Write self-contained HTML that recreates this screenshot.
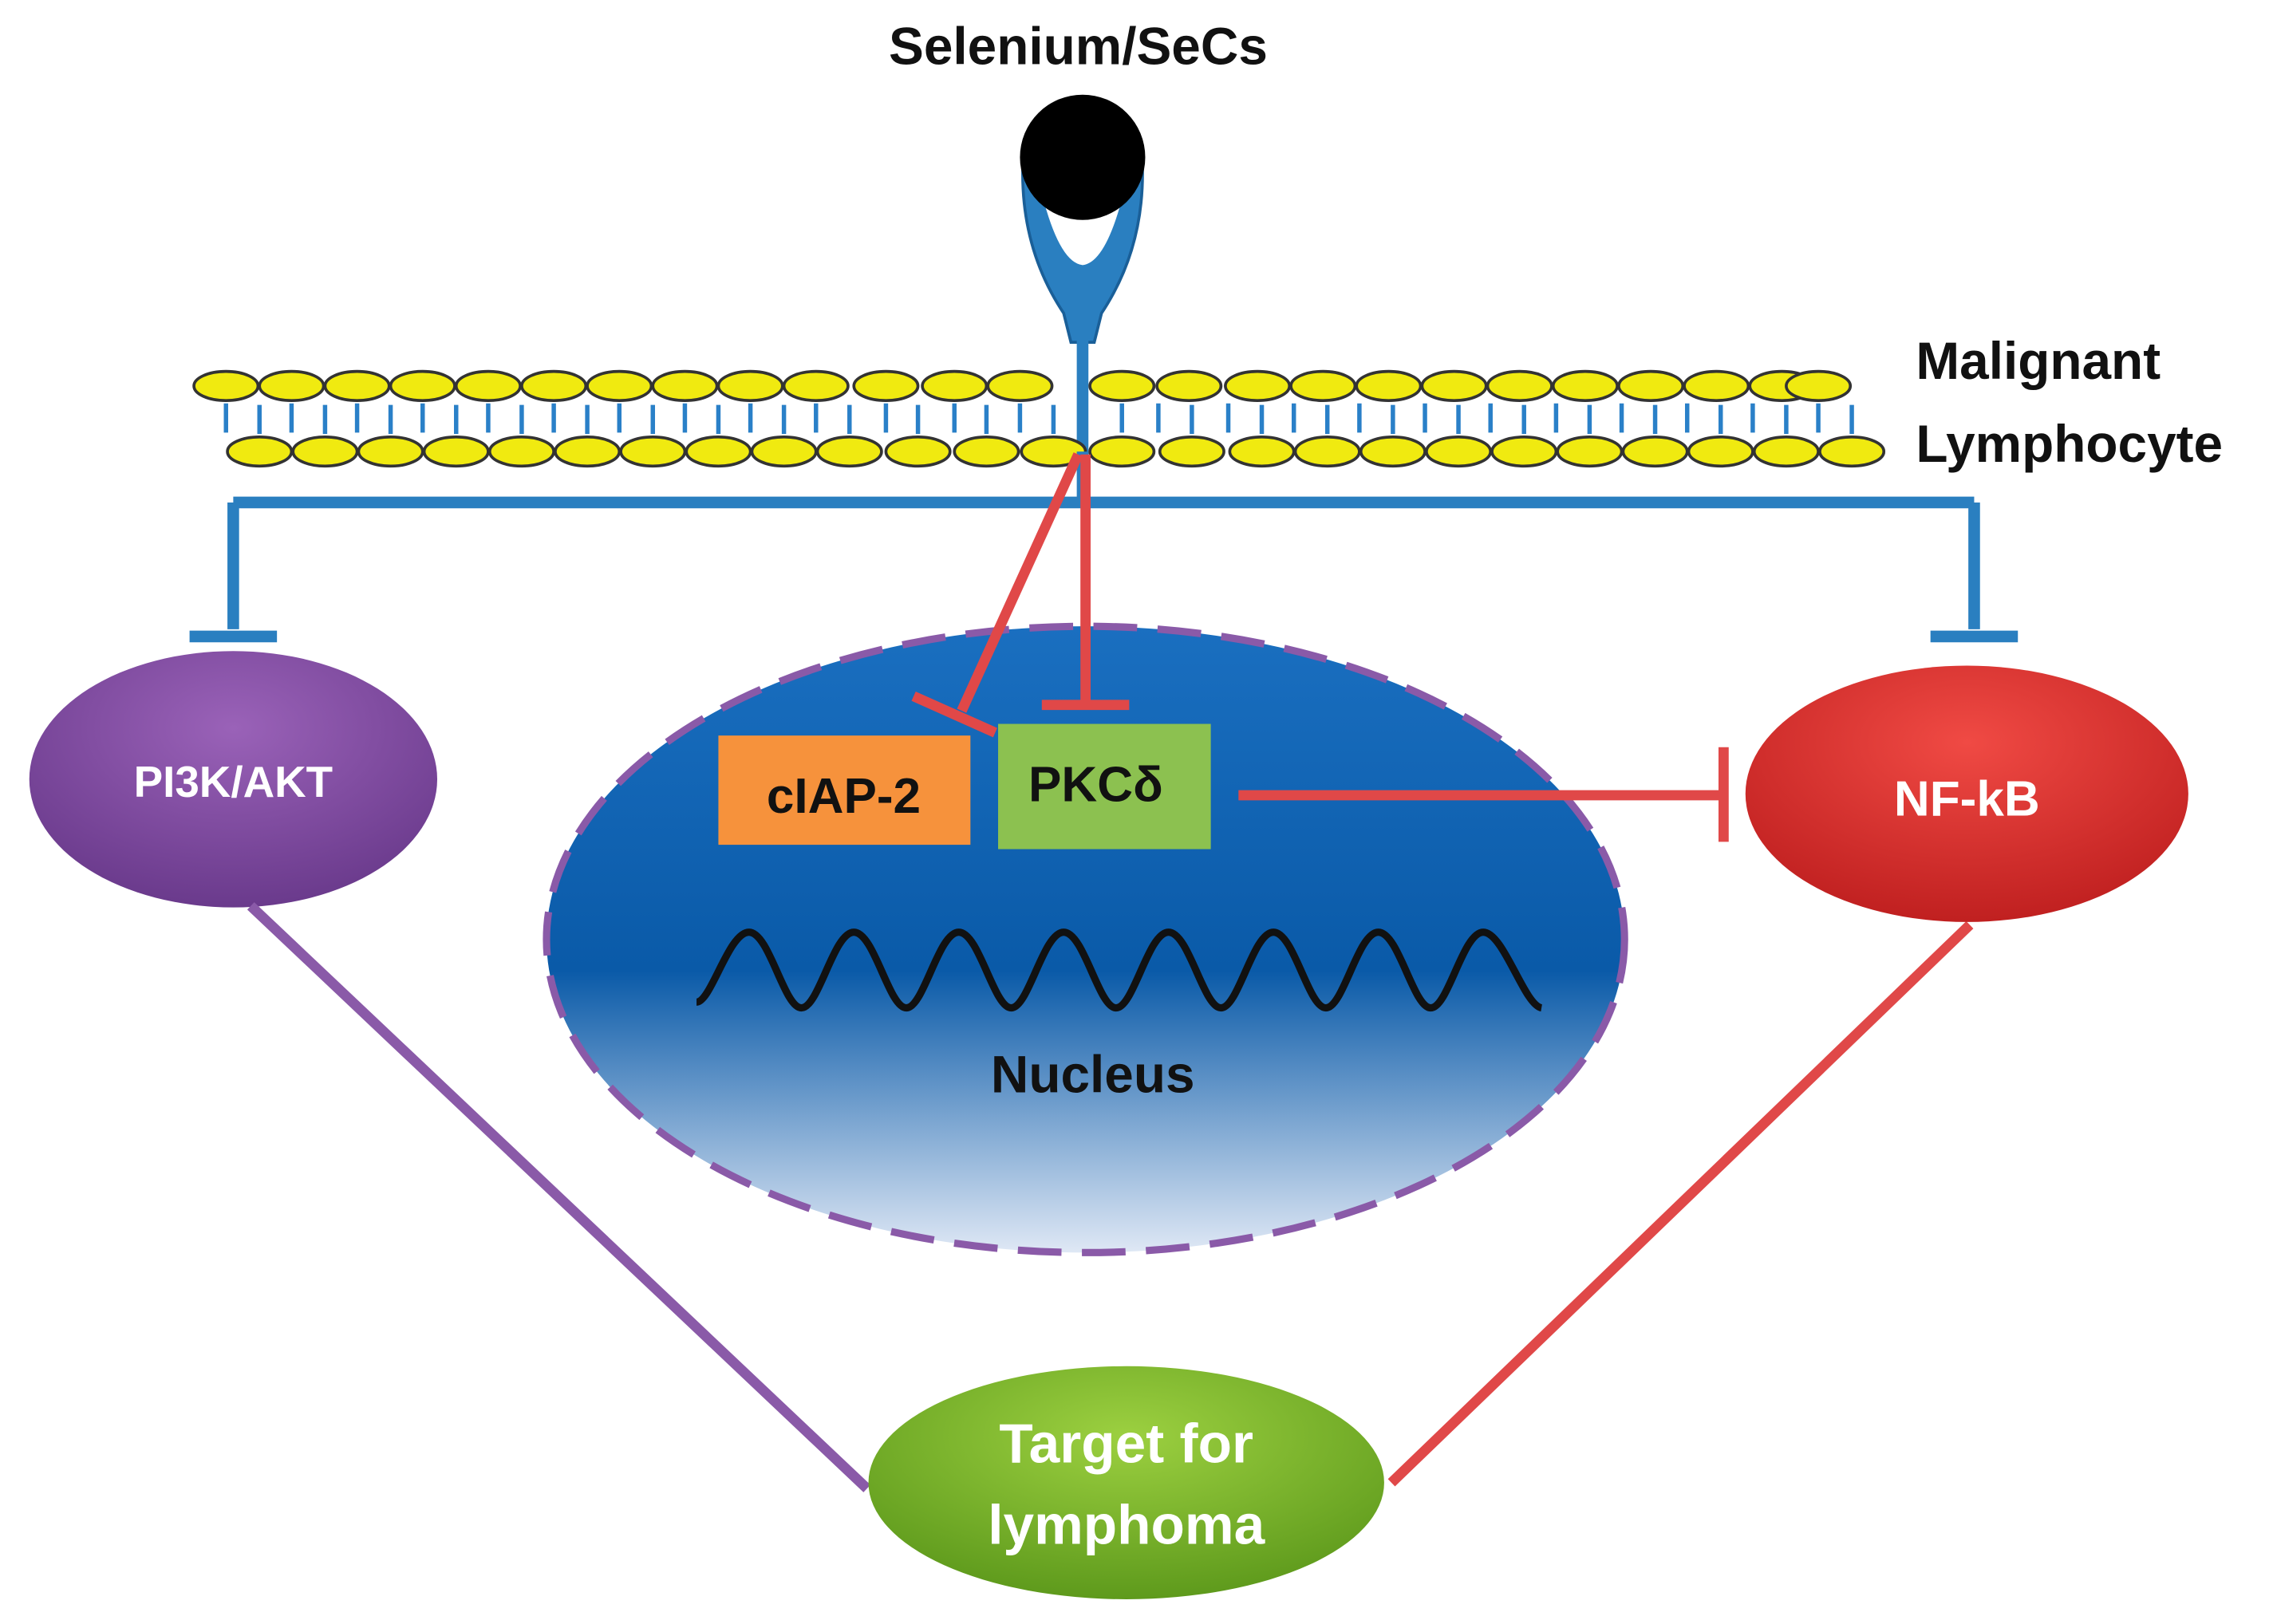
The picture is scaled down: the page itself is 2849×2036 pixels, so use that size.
<!DOCTYPE html>
<html><head><meta charset="utf-8"><style>
html,body{margin:0;padding:0;background:#fff;}
svg{display:block;}
text{font-family:"Liberation Sans","DejaVu Sans",sans-serif;font-weight:bold;}
</style></head><body>
<svg width="2849" height="2036" viewBox="0 0 1560 1115" xmlns="http://www.w3.org/2000/svg">
<defs>
<linearGradient id="nuc" x1="0" y1="0" x2="0" y2="1">
<stop offset="0" stop-color="#1a6fc0"/><stop offset="0.55" stop-color="#0a5aa8"/><stop offset="1" stop-color="#dfe8f5"/>
</linearGradient>
<radialGradient id="pur" cx="0.5" cy="0.3" r="0.7"><stop offset="0" stop-color="#9a62b8"/><stop offset="1" stop-color="#6a3a8c"/></radialGradient>
<radialGradient id="red" cx="0.5" cy="0.3" r="0.7"><stop offset="0" stop-color="#f04a44"/><stop offset="1" stop-color="#c02020"/></radialGradient>
<radialGradient id="grn" cx="0.5" cy="0.3" r="0.7"><stop offset="0" stop-color="#9cd040"/><stop offset="1" stop-color="#5e9a1c"/></radialGradient>
</defs>
<text x="740" y="44" font-size="36" text-anchor="middle" fill="#111">Selenium/SeCs</text>
<path d="M702 112 Q700 170 730 215 L735 235 L751 235 L756 215 Q786 170 784 112 Z" fill="#2a7fc0" stroke="#1a5f98" stroke-width="2"/>
<path d="M712 120 Q725 180 743 182 Q761 180 774 120 Z" fill="#fff"/>
<circle cx="743" cy="108" r="43" fill="#000"/>
<rect x="739" y="233" width="8" height="80" fill="#2a7fc0"/>
<g stroke="#2a80c8" stroke-width="3">
<path d="M155 277v20M178 278v20M200 277v20M223 278v20M245 277v20M268 278v20M290 277v20M313 278v20M335 277v20M358 278v20M380 277v20M403 278v20M425 277v20M448 278v20M470 277v20M493 278v20M515 277v20M538 278v20M560 277v20M583 278v20M608 277v20M630 278v20M655 277v20M677 278v20M700 277v20M723 278v20M770 277v20M795 277v20M818 278v20M843 277v20M866 278v20M888 277v20M911 278v20M933 277v20M956 278v20M978 277v20M1001 278v20M1023 277v20M1046 278v20M1068 277v20M1091 278v20M1113 277v20M1136 278v20M1158 277v20M1181 278v20M1203 277v20M1226 278v20M1248 277v20M1271 278v20"/>
</g>
<g fill="#f0ea10" stroke="#333" stroke-width="2">
<ellipse cx="155" cy="265" rx="22" ry="10"/><ellipse cx="200" cy="265" rx="22" ry="10"/><ellipse cx="245" cy="265" rx="22" ry="10"/><ellipse cx="290" cy="265" rx="22" ry="10"/><ellipse cx="335" cy="265" rx="22" ry="10"/><ellipse cx="380" cy="265" rx="22" ry="10"/><ellipse cx="425" cy="265" rx="22" ry="10"/><ellipse cx="470" cy="265" rx="22" ry="10"/><ellipse cx="515" cy="265" rx="22" ry="10"/><ellipse cx="560" cy="265" rx="22" ry="10"/><ellipse cx="608" cy="265" rx="22" ry="10"/><ellipse cx="655" cy="265" rx="22" ry="10"/><ellipse cx="700" cy="265" rx="22" ry="10"/><ellipse cx="770" cy="265" rx="22" ry="10"/><ellipse cx="816" cy="265" rx="22" ry="10"/><ellipse cx="863" cy="265" rx="22" ry="10"/><ellipse cx="908" cy="265" rx="22" ry="10"/><ellipse cx="953" cy="265" rx="22" ry="10"/><ellipse cx="998" cy="265" rx="22" ry="10"/><ellipse cx="1043" cy="265" rx="22" ry="10"/><ellipse cx="1088" cy="265" rx="22" ry="10"/><ellipse cx="1133" cy="265" rx="22" ry="10"/><ellipse cx="1178" cy="265" rx="22" ry="10"/><ellipse cx="1223" cy="265" rx="22" ry="10"/><ellipse cx="1248" cy="265" rx="22" ry="10"/>
<ellipse cx="178" cy="310" rx="22" ry="10"/><ellipse cx="223" cy="310" rx="22" ry="10"/><ellipse cx="268" cy="310" rx="22" ry="10"/><ellipse cx="313" cy="310" rx="22" ry="10"/><ellipse cx="358" cy="310" rx="22" ry="10"/><ellipse cx="403" cy="310" rx="22" ry="10"/><ellipse cx="448" cy="310" rx="22" ry="10"/><ellipse cx="493" cy="310" rx="22" ry="10"/><ellipse cx="538" cy="310" rx="22" ry="10"/><ellipse cx="583" cy="310" rx="22" ry="10"/><ellipse cx="630" cy="310" rx="22" ry="10"/><ellipse cx="677" cy="310" rx="22" ry="10"/><ellipse cx="723" cy="310" rx="22" ry="10"/><ellipse cx="770" cy="310" rx="22" ry="10"/><ellipse cx="818" cy="310" rx="22" ry="10"/><ellipse cx="866" cy="310" rx="22" ry="10"/><ellipse cx="911" cy="310" rx="22" ry="10"/><ellipse cx="956" cy="310" rx="22" ry="10"/><ellipse cx="1001" cy="310" rx="22" ry="10"/><ellipse cx="1046" cy="310" rx="22" ry="10"/><ellipse cx="1091" cy="310" rx="22" ry="10"/><ellipse cx="1136" cy="310" rx="22" ry="10"/><ellipse cx="1181" cy="310" rx="22" ry="10"/><ellipse cx="1226" cy="310" rx="22" ry="10"/><ellipse cx="1271" cy="310" rx="22" ry="10"/>
</g>
<text x="1315" y="260" font-size="36" fill="#111">Malignant</text>
<text x="1315" y="317" font-size="36" fill="#111">Lymphocyte</text>
<g stroke="#2a7fc0" stroke-width="8" fill="none">
<path d="M743 310 V345 M160 345 H1355 M160 345 V432 M1355 345 V432"/>
<path d="M130 437 H190 M1325 437 H1385"/>
</g>
<ellipse cx="160" cy="535" rx="140" ry="88" fill="url(#pur)"/>
<text x="160" y="547" font-size="30" fill="#fff" text-anchor="middle">PI3K/AKT</text>
<ellipse cx="745" cy="645" rx="370" ry="215" fill="url(#nuc)" stroke="#8a5aa8" stroke-width="5" stroke-dasharray="30,14"/>
<g stroke="#e04848" stroke-width="7" fill="none">
<path d="M740 312 L660 488 M627 478 L683 503"/>
<path d="M745 312 V482 M715 484 H775"/>
<path d="M850 546 H1183 M1183 513 V578"/>
<path d="M1352 635 L955 1018"/>
</g>
<path d="M172 622 L595 1022" stroke="#8a5aa8" stroke-width="7"/>
<rect x="493" y="505" width="173" height="75" fill="#f6923c"/>
<text x="579" y="558" font-size="34" fill="#111" text-anchor="middle">cIAP-2</text>
<rect x="685" y="497" width="146" height="86" fill="#8cc150"/>
<text x="752" y="550" font-size="34" fill="#111" text-anchor="middle">PKCδ</text>
<path d="M478 688 C488 688 500 640 514 640 C528 640 538 692 550 692 C562 692 572 640 586 640 C600 640 610 692 622 692 C634 692 644 640 658 640 C672 640 682 692 694 692 C706 692 716 640 730 640 C744 640 754 692 766 692 C778 692 788 640 802 640 C816 640 826 692 838 692 C850 692 860 640 874 640 C888 640 898 692 910 692 C922 692 932 640 946 640 C960 640 970 692 982 692 C994 692 1004 640 1018 640 C1032 640 1046 690 1058 692" stroke="#111" stroke-width="5" fill="none"/>
<text x="750" y="750" font-size="36" fill="#111" text-anchor="middle">Nucleus</text>
<ellipse cx="1350" cy="545" rx="152" ry="88" fill="url(#red)"/>
<text x="1350" y="560" font-size="34" fill="#fff" text-anchor="middle">NF-kB</text>
<ellipse cx="773" cy="1018" rx="177" ry="80" fill="url(#grn)"/>
<text x="773" y="1004" font-size="38" fill="#fff" text-anchor="middle">Target for</text>
<text x="773" y="1060" font-size="38" fill="#fff" text-anchor="middle">lymphoma</text>
</svg>
</body></html>
